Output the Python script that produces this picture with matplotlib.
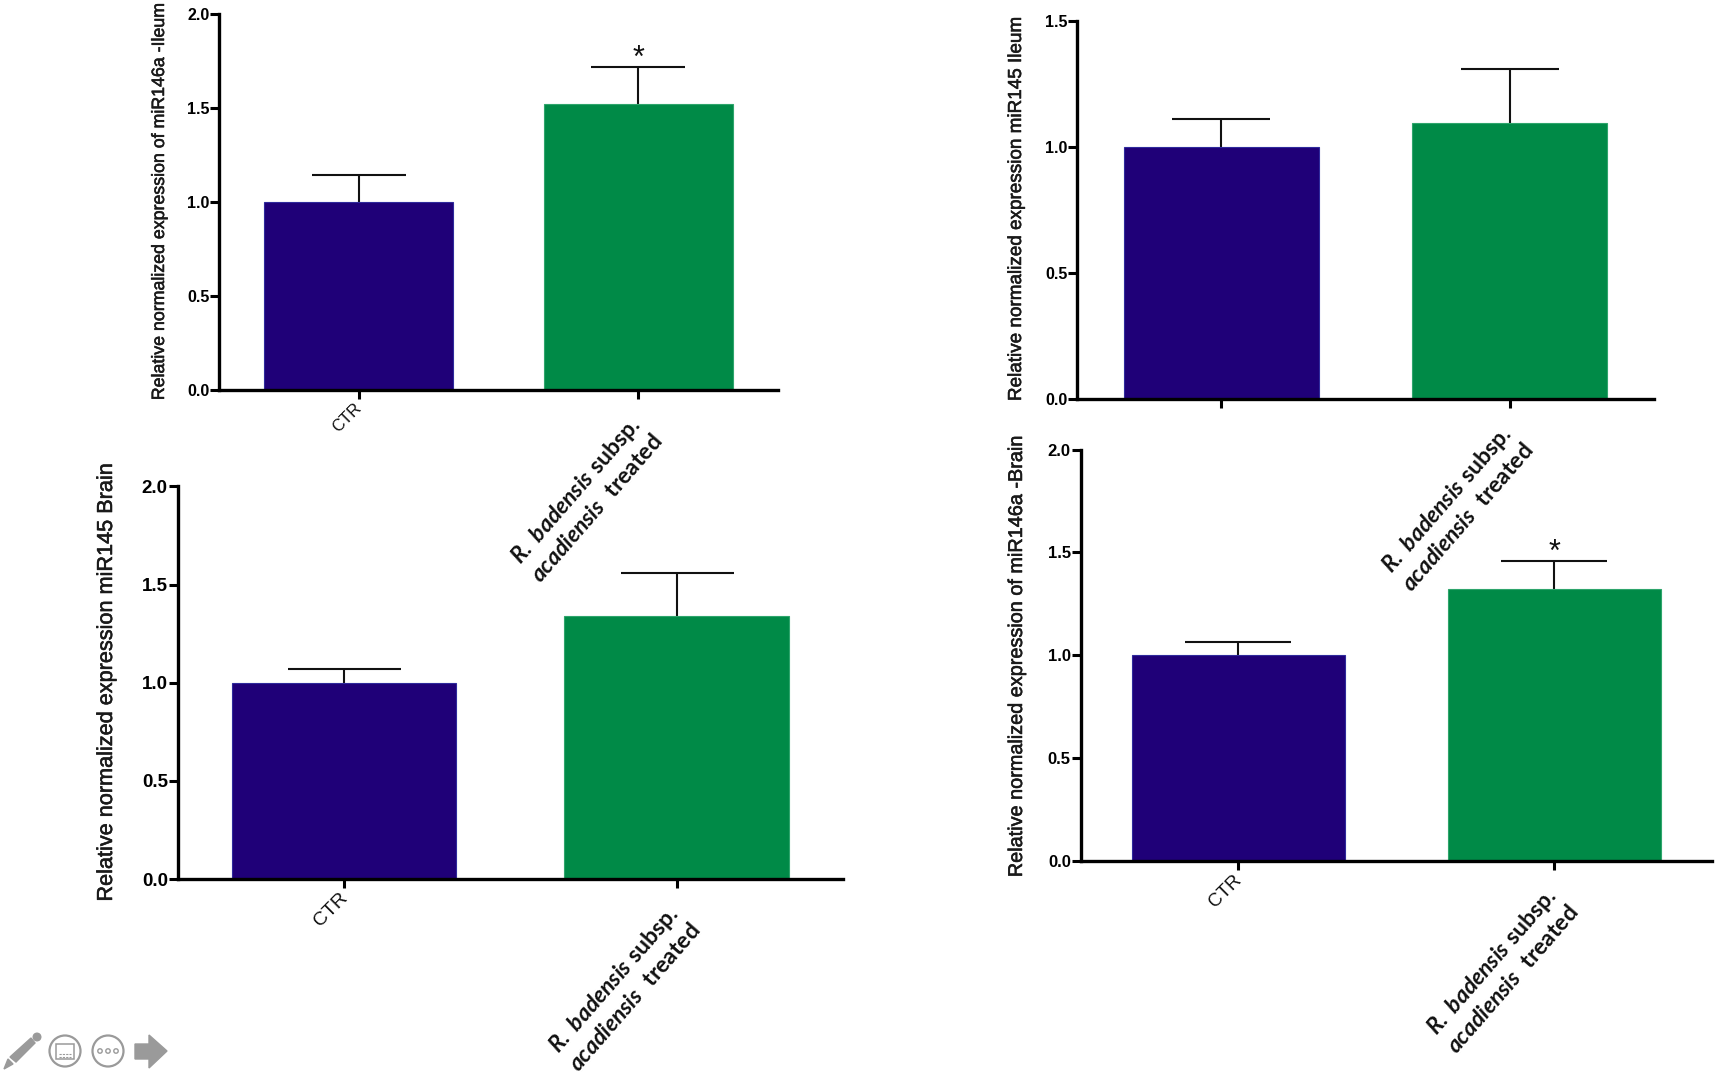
import matplotlib
matplotlib.use("Agg")
import matplotlib.pyplot as plt
import matplotlib.patheffects as pe
from matplotlib.patches import Circle, Polygon, Rectangle
from matplotlib.transforms import ScaledTranslation

W, H = 1718, 1076

plt.rcParams['font.family'] = ['Liberation Sans', 'DejaVu Sans']
plt.rcParams['mathtext.fontset'] = 'custom'
plt.rcParams['mathtext.it'] = 'Lato:italic:bold'
plt.rcParams['mathtext.rm'] = 'Lato:bold'

# values: CTR, treated
ileum146_vals = [1.0, 1.52]
ileum146_tops = [1.145, 1.72]
ileum145_vals = [1.0, 1.095]
ileum145_tops = [1.11, 1.31]
brain145_vals = [1.0, 1.34]
brain145_tops = [1.07, 1.56]
brain146_vals = [1.0, 1.32]
brain146_tops = [1.065, 1.46]

ticks_2 = [0.0, 0.5, 1.0, 1.5, 2.0]
ticks_15 = [0.0, 0.5, 1.0, 1.5]

ctr_name = "CTR"
treated_name = r"$\mathit{R.\ badensis}$ $\mathrm{subsp.}$" + "\n" + r"$\mathit{acadiensis}$  $\mathrm{treated}$"
bar_colors = ["#1f0078", "#008a47"]
edge_colors = ["#2f2a9c", "#2ea56c"]

def shift(label, dx, dy):
    # move a tick label by some pixels, y goes up
    label.set_transform(label.get_transform() + ScaledTranslation(dx / 100, dy / 100, fig.dpi_scale_trans))

def panel(box, vals, tops, yticks, ylabel, label_x, lab_size, tick_size, ctr_size, treat_size, cap_px,
          star=False, show_ctr=True):
    # box is left, top, right, bottom in pixels
    l, t, r, b = box
    ax = fig.add_axes([l / W, 1 - b / H, (r - l) / W, (b - t) / H])
    ax.patch.set_alpha(0)
    x = [0, 1]
    ax.bar(x, vals, width=0.675, color=bar_colors, edgecolor=edge_colors, linewidth=0.8, zorder=2)
    errs = [v2 - v1 for v1, v2 in zip(vals, tops)]
    eb = ax.errorbar(x, vals, yerr=[[0, 0], errs], fmt='none', ecolor='#111111', elinewidth=1.5,
                     capsize=cap_px * 0.72 / 2, capthick=1.5, zorder=1.5)
    eb[1][0].set_visible(False)  # no lower cap
    ax.set_xlim(-0.5, 1.5)
    ax.set_ylim(0, yticks[-1])
    ax.set_yticks(yticks)
    ax.set_yticklabels(["%.1f" % v for v in yticks], fontsize=tick_size, fontweight='bold')
    ax.set_xticks(x)
    ax.tick_params(axis='both', length=6.5, width=2.2, color='black')
    ax.tick_params(axis='y', pad=0.5)
    ax.tick_params(axis='x', pad=9)
    ax.set_xticklabels([ctr_name if show_ctr else "", treated_name], ha='right', va='top',
                       rotation_mode='anchor', multialignment='center', color='#111111')
    ctr_lab, treat_lab = ax.get_xticklabels()
    ctr_lab.set_fontsize(ctr_size)
    ctr_lab.set_rotation(45)
    treat_lab.set_fontsize(treat_size)
    treat_lab.set_rotation(49)
    shift(ctr_lab, -5, 11)
    shift(treat_lab, -10, 0)
    ax.spines['top'].set_visible(False)
    ax.spines['right'].set_visible(False)
    ax.spines['left'].set_linewidth(2.4)
    ax.spines['bottom'].set_linewidth(2.4)
    lab = ax.set_ylabel(ylabel, fontsize=lab_size, color='#1a1a1a')
    lab.set_path_effects([pe.withStroke(linewidth=0.4, foreground='#1a1a1a')])
    ax.yaxis.set_label_coords((label_x - l) / (r - l), 0.5)
    if star:
        ax.annotate("*", xy=(1, tops[1]), xytext=(0, -5.5), textcoords='offset points',
                    ha='center', va='bottom', fontsize=22, color='#111111')
    return ax

fig = plt.figure(figsize=(W / 100, H / 100), dpi=100, facecolor='white')

panel((219, 14, 778, 390), ileum146_vals, ileum146_tops, ticks_2,
      "Relative normalized expression of miR146a -Ileum", 168, 12.8, 11.5, 12, 16.5, 94, star=True)
panel((1077, 21, 1654, 399), ileum145_vals, ileum145_tops, ticks_15,
      "Relative normalized expression miR145 Ileum", 1025, 13.6, 11.5, 12, 16.5, 98, show_ctr=False)
panel((177.5, 486.5, 843, 879), brain145_vals, brain145_tops, ticks_2,
      "Relative normalized expression miR145 Brain", 117, 15.6, 13.5, 14, 16.5, 113)
panel((1080.5, 449.5, 1712, 861), brain146_vals, brain146_tops, ticks_2,
      "Relative normalized expression of miR146a -Brain", 1026, 14.3, 12, 13.5, 16.5, 106, star=True)

# the grey slide-show buttons in the lower left corner
ov = fig.add_axes([0, 0, 1, 1])
ov.set_xlim(0, W)
ov.set_ylim(H, 0)
ov.axis('off')
ov.patch.set_alpha(0)
grey = '#9a9a9a'
ov.add_patch(Polygon([(4, 1069), (8, 1059), (13, 1064)], closed=True, color=grey))
ov.add_patch(Polygon([(10, 1057), (31, 1038), (35, 1043), (16, 1062)], closed=True, color=grey))
ov.add_patch(Circle((37, 1037), 3.8, color=grey))
ov.add_patch(Circle((65, 1051), 15.5, fill=False, ec=grey, lw=1.6))
ov.add_patch(Rectangle((56, 1044), 18, 15, fill=False, ec=grey, lw=1.1))
ov.plot([59, 71], [1054, 1054], color=grey, lw=0.8, ls=(0, (2, 1)))
ov.plot([59, 71], [1056.5, 1056.5], color=grey, lw=0.8, ls=(0, (2, 1)))
ov.add_patch(Circle((108, 1051), 15.5, fill=False, ec=grey, lw=1.6))
for cx in (100, 108, 116):
    ov.add_patch(Circle((cx, 1051), 2.2, fill=False, ec=grey, lw=1))
ov.add_patch(Polygon([(135, 1044), (149, 1044), (149, 1035), (167, 1051), (149, 1068), (149, 1059), (135, 1059)],
                     closed=True, color=grey))

fig.savefig("out.png", dpi=100)
